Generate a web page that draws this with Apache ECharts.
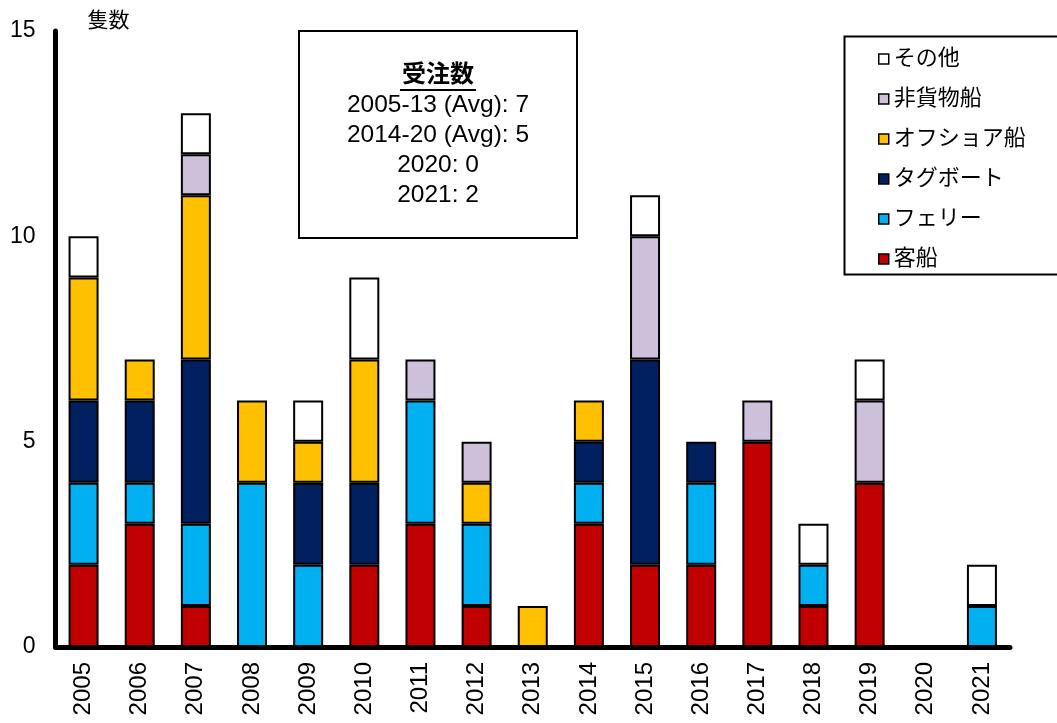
<!DOCTYPE html>
<html>
<head>
<meta charset="utf-8">
<script src="https://cdn.jsdelivr.net/npm/echarts@6/dist/echarts.min.js"></script>
<style>
  html, body { margin: 0; padding: 0; background: #fff; }
  #chart { width: 1057px; height: 723px; }
</style>
</head>
<body>
<div id="chart"></div>
<script>
// 年ごとの受注隻数（積み上げ、下から）
const years = ["2005","2006","2007","2008","2009","2010","2011","2012","2013","2014","2015","2016","2017","2018","2019","2020","2021"];
const kyakusen   = [2, 3, 1, 0, 0, 2, 3, 1, 0, 3, 2, 2, 5, 1, 4, 0, 0]; // 客船
const ferry      = [2, 1, 2, 4, 2, 0, 3, 2, 0, 1, 0, 2, 0, 1, 0, 0, 1]; // フェリー
const tugboat    = [2, 2, 4, 0, 2, 2, 0, 0, 0, 1, 5, 1, 0, 0, 0, 0, 0]; // タグボート
const offshore   = [3, 1, 4, 2, 1, 3, 0, 1, 1, 1, 0, 0, 0, 0, 0, 0, 0]; // オフショア船
const nonCargo   = [0, 0, 1, 0, 0, 0, 1, 1, 0, 0, 3, 0, 1, 0, 2, 0, 0]; // 非貨物船
const others     = [1, 0, 1, 0, 1, 2, 0, 0, 0, 0, 1, 0, 0, 1, 1, 0, 1]; // その他
const yTicks = [0, 5, 10, 15];
const noteLines = ["2005-13 (Avg): 7", "2014-20 (Avg): 5", "2020: 0", "2021: 2"];

const FONT = "'Liberation Sans', Arial, 'Noto Sans CJK JP', sans-serif";

let mychart = echarts.init(document.querySelector("#chart"));

function bar(name, data, color) {
  return {
    name: name,
    type: "bar",
    stack: "total",
    barWidth: 30,
    data: data.map(v => (v === 0 ? null : v)),
    itemStyle: { color: color, borderColor: "#000", borderWidth: 2 },
  };
}

let option = {
  animation: false,
  textStyle: { fontFamily: FONT },
  grid: { left: 55.5, right: 47, top: 31, bottom: 76 },
  legend: {
    orient: "vertical",
    left: 873,
    top: 43,
    itemWidth: 10,
    itemHeight: 10,
    itemGap: 18,
    icon: "rect",
    itemStyle: { borderColor: "#000", borderWidth: 1.5 },
    textStyle: { fontSize: 22, color: "#000", fontFamily: FONT, padding: [0, 0, 0, 0] },
    data: ["その他", "非貨物船", "オフショア船", "タグボート", "フェリー", "客船"],
  },
  xAxis: {
    type: "category",
    data: years,
    axisLine: { lineStyle: { color: "#000", width: 5 } },
    axisTick: { show: false },
    axisLabel: { rotate: 90, fontSize: 24, color: "#000", margin: 15, fontFamily: FONT },
  },
  yAxis: {
    type: "value",
    min: 0,
    max: 15,
    interval: 5,
    name: "隻数",
    nameLocation: "end",
    nameGap: 0,
    nameTextStyle: { fontSize: 21, color: "#000", align: "left", verticalAlign: "bottom", padding: [0, 0, -1, 32], fontFamily: FONT },
    splitLine: { show: false },
    axisTick: { show: false },
    axisLine: { show: true, lineStyle: { color: "#000", width: 5 } },
    axisLabel: {
      fontSize: 23, color: "#000", margin: 20, fontFamily: FONT,
      formatter: v => (yTicks.includes(v) ? String(v) : ""),
    },
  },
  graphic: [
    {
      type: "rect",
      left: 842, top: 34,
      shape: { width: 230, height: 238 },
      style: { fill: "none", stroke: "#000", lineWidth: 2 },
      z: 100,
    },
    {
      type: "group",
      left: 298, top: 30,
      children: [
        { type: "rect", shape: { x: 0, y: 0, width: 278, height: 207 }, style: { fill: "#fff", stroke: "#000", lineWidth: 2 } },
        { type: "text", x: 139, y: 44, style: { text: "受注数", font: "bold 24px " + FONT, fill: "#000", align: "center", verticalAlign: "middle" } },
        { type: "line", shape: { x1: 101, y1: 59, x2: 177, y2: 59 }, style: { stroke: "#000", lineWidth: 2 } },
      ].concat(noteLines.map((t, i) => ({
        type: "text", x: 139, y: 74 + i * 30,
        style: { text: t, font: "24.5px " + FONT, fill: "#000", align: "center", verticalAlign: "middle" },
      }))),
      z: 100,
    },
  ],
  series: [
    bar("客船", kyakusen, "#C00000"),
    bar("フェリー", ferry, "#00B0F0"),
    bar("タグボート", tugboat, "#002060"),
    bar("オフショア船", offshore, "#FFC000"),
    bar("非貨物船", nonCargo, "#CCC0DA"),
    bar("その他", others, "#FFFFFF"),
  ],
};
mychart.setOption(option);
</script>
</body>
</html>
